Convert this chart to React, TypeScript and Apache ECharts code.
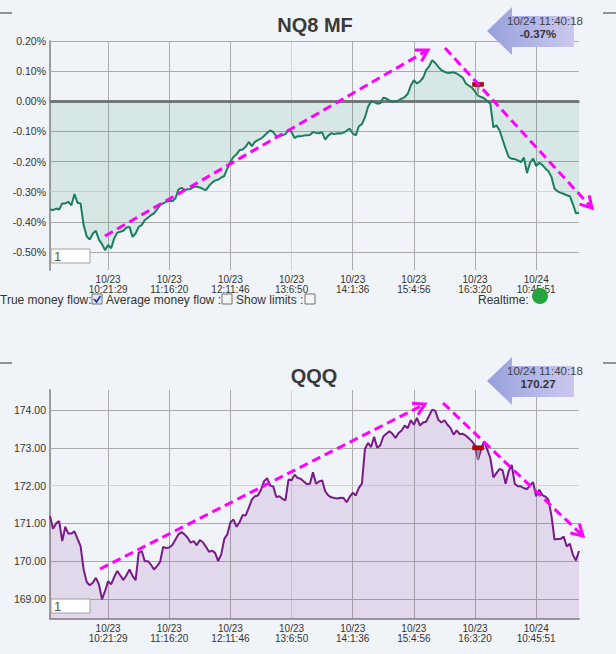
import React, { useEffect, useRef } from "react";
import * as echarts from "echarts";

// ---------- data ----------
const TICK_LABELS = [
  "10/23\n10:21:29",
  "10/23\n11:16:20",
  "10/23\n12:11:46",
  "10/23\n13:6:50",
  "10/23\n14:1:36",
  "10/23\n15:4:56",
  "10/23\n16:3:20",
  "10/24\n10:45:51",
];
const TICK_FIRST = 19;
const TICK_STEP = 20;

// NQ8 MF money flow, percent
const NQ_VALUES = [
  -0.359, -0.361, -0.356, -0.359, -0.339, -0.339, -0.334, -0.345, -0.308, -0.337,
  -0.339, -0.411, -0.448, -0.459, -0.439, -0.43, -0.459, -0.474, -0.494, -0.477,
  -0.488, -0.455, -0.436, -0.433, -0.43, -0.419, -0.417, -0.45, -0.439, -0.417,
  -0.411, -0.394, -0.387, -0.378, -0.372, -0.359, -0.345, -0.339, -0.334, -0.33,
  -0.332, -0.323, -0.293, -0.287, -0.295, -0.292, -0.291, -0.284, -0.284, -0.286,
  -0.291, -0.295, -0.281, -0.27, -0.263, -0.26, -0.253, -0.248, -0.223, -0.201,
  -0.185, -0.176, -0.162, -0.16, -0.151, -0.135, -0.149, -0.135, -0.129, -0.124,
  -0.115, -0.105, -0.097, -0.102, -0.116, -0.116, -0.113, -0.109, -0.094, -0.102,
  -0.122, -0.116, -0.116, -0.114, -0.113, -0.112, -0.102, -0.105, -0.106, -0.103,
  -0.127, -0.114, -0.106, -0.109, -0.106, -0.107, -0.104, -0.098, -0.091, -0.107,
  -0.113, -0.083, -0.076, -0.054, -0.019, 0.0, -0.003, -0.008, -0.007, 0.012,
  0.009, 0.002, -0.002, -0.001, 0.003, 0.009, 0.014, 0.025, 0.052, 0.07,
  0.059, 0.066, 0.078, 0.103, 0.116, 0.136, 0.127, 0.114, 0.103, 0.098,
  0.094, 0.095, 0.096, 0.092, 0.085, 0.078, 0.059, 0.052, 0.045, 0.032,
  0.019, 0.014, 0.01, 0.001, -0.008, -0.087, -0.08, -0.096, -0.127, -0.157,
  -0.185, -0.191, -0.192, -0.196, -0.202, -0.187, -0.238, -0.204, -0.19, -0.215,
  -0.204, -0.211, -0.223, -0.232, -0.251, -0.29, -0.299, -0.304, -0.307, -0.312,
  -0.315, -0.341, -0.372, -0.37,
];

// QQQ price
const QQQ_VALUES = [
  171.19, 170.86, 171.0, 171.06, 170.53, 170.91, 170.73, 170.73, 170.79, 170.59,
  170.4, 169.78, 169.45, 169.36, 169.43, 169.56, 169.39, 168.99, 169.21, 169.47,
  169.39, 169.58, 169.74, 169.62, 169.5, 169.63, 169.78, 169.61, 169.5, 170.22,
  170.27, 170.0, 170.0, 169.91, 169.78, 169.87, 169.98, 170.38, 170.35, 170.36,
  170.43, 170.57, 170.71, 170.77, 170.71, 170.62, 170.49, 170.53, 170.42, 170.56,
  170.5, 170.38, 170.25, 170.28, 170.22, 170.0, 170.18, 170.59, 170.71, 171.03,
  171.1, 170.91, 171.03, 171.22, 171.21, 171.41, 171.63, 171.72, 171.74, 171.89,
  172.11, 172.2, 172.0, 171.98, 171.7, 171.72, 171.65, 171.61, 172.16, 172.14,
  172.29, 172.2, 172.18, 172.11, 172.04, 172.05, 172.35, 172.05, 172.11, 172.14,
  171.85, 171.74, 171.69, 171.67, 171.66, 171.68, 171.67, 171.56, 171.7, 171.81,
  171.74, 171.94, 172.05, 172.97, 173.13, 173.02, 173.29, 173.0, 173.06, 173.3,
  173.37, 173.44, 173.37, 173.26, 173.39, 173.46, 173.59, 173.52, 173.73, 173.61,
  173.79, 173.59, 173.67, 173.69, 173.85, 174.01, 173.98, 173.74, 173.67, 173.73,
  173.61, 173.52, 173.35, 173.46, 173.36, 173.37, 173.32, 173.25, 173.17, 173.06,
  172.69, 172.97, 173.17, 172.95, 172.73, 172.22, 172.33, 172.44, 172.41, 172.05,
  172.38, 172.55, 172.05, 171.98, 171.98, 171.93, 171.91, 172.01, 172.09, 171.72,
  171.89, 171.75, 171.71, 171.63, 171.2, 170.57, 170.59, 170.59, 170.65, 170.39,
  170.46, 170.17, 170.02, 170.27,
];

const NQ_GRID_VALUES = [0.2, 0.1, -0.1, -0.2, -0.3, -0.4, -0.5];
const NQ_LIGHT_GRID = -0.3;
const QQQ_GRID_VALUES = [174, 173, 172, 171, 170, 169];
const QQQ_LIGHT_GRID = 172;

const MARKER_INDEX = 140;
const NQ_MARKER_VALUE = 0.056;
const QQQ_MARKER_VALUE = 173.0;

const NQ_LAST_TIME = "10/24 11:40:18";
const NQ_LAST_VALUE = "-0.37%";
const QQQ_LAST_TIME = "10/24 11:40:18";
const QQQ_LAST_VALUE = "170.27";

// ---------- style ----------
const FONT = '"Liberation Sans Narrow", "Liberation Sans", Arial, sans-serif';
const BG = "#f0f4f8";
const GRID_GREY = "#ababab";
const GRID_TEAL = "#c6dcda";
const AXIS_GREY = "#9c9c9c";
const MAGENTA = "#ff00ff";

const categories = NQ_VALUES.map((_, i) => String(i));
const isTick = (i: number) => i >= TICK_FIRST && (i - TICK_FIRST) % TICK_STEP === 0;
const tickLabel = (i: number) => TICK_LABELS[(i - TICK_FIRST) / TICK_STEP] ?? "";

function xAxisFor(gridIndex: number) {
  return {
    type: "category",
    gridIndex,
    data: categories,
    boundaryGap: false,
    axisLine: { show: true, lineStyle: { color: AXIS_GREY, width: 2 } },
    axisTick: { show: false },
    axisLabel: {
      interval: (i: number) => isTick(i),
      formatter: (v: string) => tickLabel(Number(v)),
      fontSize: 10,
      lineHeight: 10,
      color: "#333",
      fontFamily: FONT,
      margin: 4,
    },
    splitLine: {
      show: true,
      interval: (i: number) => isTick(i),
      lineStyle: {
        color: [GRID_GREY, GRID_GREY, GRID_GREY, GRID_TEAL, GRID_GREY, GRID_GREY, GRID_GREY, GRID_GREY],
        width: 1,
      },
    },
  };
}

function yAxisFor(gridIndex: number, min: number, max: number, splitNumber: number, fmt: (v: number) => string, showMax: boolean) {
  return {
    type: "value",
    gridIndex,
    min,
    max,
    splitNumber,
    axisLine: { show: true, lineStyle: { color: AXIS_GREY, width: 2 } },
    axisTick: { show: false },
    splitLine: { show: false },
    axisLabel: {
      showMinLabel: false,
      showMaxLabel: showMax,
      formatter: fmt,
      fontSize: 10.5,
      color: "#333",
      fontFamily: FONT,
      margin: 4,
    },
  };
}

function magentaArrow(x1: number, y1: number, x2: number, y2: number) {
  const dx = x2 - x1;
  const dy = y2 - y1;
  const L = Math.hypot(dx, dy);
  const ux = dx / L;
  const uy = dy / L;
  const hl = 13;
  const a = Math.PI / 6;
  const w = (s: number) => {
    const c = Math.cos(s * a);
    const sn = Math.sin(s * a);
    const rx = ux * c - uy * sn;
    const ry = ux * sn + uy * c;
    return [x2 - rx * hl, y2 - ry * hl];
  };
  return [
    {
      type: "line",
      z: 100,
      shape: { x1, y1, x2: x2 - ux * 2, y2: y2 - uy * 2 },
      style: { stroke: MAGENTA, lineWidth: 3, lineDash: [9, 5] },
    },
    {
      type: "polyline",
      z: 100,
      shape: { points: [w(1), [x2, y2], w(-1)] },
      style: { stroke: MAGENTA, lineWidth: 3, fill: null },
    },
  ];
}

function priceArrowBox(top: number, time: string, value: string) {
  return [
    {
      type: "polygon",
      z: 90,
      shape: {
        points: [
          [487, top + 24],
          [512, top],
          [512, top + 9],
          [574, top + 9],
          [574, top + 40],
          [512, top + 40],
          [512, top + 48],
        ],
      },
      style: {
        fill: new echarts.graphic.LinearGradient(0, 0, 1, 0, [
          { offset: 0, color: "#97a0dc" },
          { offset: 0.6, color: "#b6b9e8" },
          { offset: 1, color: "#ccc8ee" },
        ]),
      },
    },
    {
      type: "text",
      z: 95,
      x: 545,
      y: top + 14,
      style: { text: time, fill: "#444", fontSize: 11.5, fontFamily: FONT, align: "center", verticalAlign: "middle" },
    },
    {
      type: "text",
      z: 95,
      x: 538,
      y: top + 27,
      style: { text: value, fill: "#333", fontSize: 11.5, fontWeight: "bold", fontFamily: FONT, align: "center", verticalAlign: "middle" },
    },
  ];
}

function inputBox(y: number) {
  return [
    { type: "rect", z: 80, shape: { x: 51, y, width: 39, height: 14 }, style: { fill: "#fff", stroke: "#a0a0a0", lineWidth: 1 } },
    { type: "text", z: 81, x: 54, y: y + 7.5, style: { text: "1", fill: "#555", fontSize: 13, fontFamily: FONT, verticalAlign: "middle" } },
  ];
}

function checkbox(x: number, y: number, checked: boolean) {
  const els: any[] = [
    { type: "rect", z: 80, shape: { x, y, width: 10, height: 10 }, style: { fill: checked ? "#e4e8f4" : "#f4f4f4", stroke: "#707070", lineWidth: 1 } },
  ];
  if (checked) {
    els.push({
      type: "polyline",
      z: 81,
      shape: { points: [[x + 2, y + 5], [x + 4.5, y + 8], [x + 8.5, y + 2]] },
      style: { stroke: "#2c3c90", lineWidth: 1.8, fill: null },
    });
  }
  return els;
}

function label(text: string, x: number, y: number, size = 12) {
  return { type: "text", z: 80, x, y, style: { text, fill: "#333", fontSize: size, fontFamily: FONT, verticalAlign: "middle" } };
}

function gridMarkLines(values: number[], light: number, extra: any[] = []) {
  return {
    silent: true,
    symbol: "none",
    z: 1,
    label: { show: false },
    data: [
      ...values.map((v) => ({ yAxis: v, lineStyle: { color: v === light ? GRID_TEAL : GRID_GREY, width: 1, type: "solid" } })),
      ...extra,
    ],
  };
}

function marker(value: number, triH: number) {
  return {
    silent: true,
    label: { show: false },
    data: [
      {
        coord: [MARKER_INDEX, value],
        symbol: "triangle",
        symbolRotate: 180,
        symbolSize: [4, triH],
        symbolOffset: [0, triH / 2 + 1],
        itemStyle: { color: "#9a9a9a" },
      },
      {
        coord: [MARKER_INDEX, value],
        symbol: "rect",
        symbolSize: [11, 4],
        itemStyle: { color: "#c00000", borderColor: "#700000", borderWidth: 0.5 },
      },
    ],
  };
}

export default function App() {
  const ref = useRef<HTMLDivElement>(null);

  useEffect(() => {
    if (!ref.current) return;
    const chart = echarts.init(ref.current, undefined, { renderer: "svg" });

    const graphic: any[] = [
      // corner dashes
      { type: "line", shape: { x1: 0, y1: 13, x2: 12, y2: 13 }, style: { stroke: "#333", lineWidth: 1 } },
      { type: "line", shape: { x1: 603, y1: 13, x2: 616, y2: 13 }, style: { stroke: "#333", lineWidth: 1 } },
      { type: "line", shape: { x1: 0, y1: 363, x2: 12, y2: 363 }, style: { stroke: "#333", lineWidth: 1 } },
      { type: "line", shape: { x1: 603, y1: 363, x2: 616, y2: 363 }, style: { stroke: "#333", lineWidth: 1 } },
      // titles
      {
        type: "text", x: 315, y: 25,
        style: { text: "NQ8 MF", fill: "#3a3a3a", fontSize: 20, fontWeight: "bold", fontFamily: FONT, align: "center", verticalAlign: "middle" },
      },
      {
        type: "text", x: 314, y: 376,
        style: { text: "QQQ", fill: "#3a3a3a", fontSize: 20, fontWeight: "bold", fontFamily: FONT, align: "center", verticalAlign: "middle" },
      },
      ...priceArrowBox(7, NQ_LAST_TIME, NQ_LAST_VALUE),
      ...priceArrowBox(357, QQQ_LAST_TIME, QQQ_LAST_VALUE),
      ...inputBox(249),
      ...inputBox(599),
      // controls row
      label("True money flow:", 0, 300),
      ...checkbox(92, 294, true),
      label("Average money flow :", 106, 300),
      ...checkbox(222, 294, false),
      label("Show limits :", 236, 300),
      ...checkbox(305, 294, false),
      label("Realtime:", 478, 300),
      { type: "circle", z: 80, shape: { cx: 540, cy: 296, r: 8 }, style: { fill: "#27a43e" } },
      // hand-drawn trend arrows
      ...magentaArrow(105, 236, 428, 50),
      ...magentaArrow(445, 48, 592, 208),
      ...magentaArrow(100, 569, 425, 404),
      ...magentaArrow(443, 403, 583, 536),
    ];

    chart.setOption({
      animation: false,
      backgroundColor: BG,
      textStyle: { fontFamily: FONT },
      grid: [
        { left: 50, top: 41, width: 529, height: 229, containLabel: false },
        { left: 50, top: 390, width: 529, height: 229, containLabel: false },
      ],
      xAxis: [xAxisFor(0), xAxisFor(1)],
      yAxis: [
        yAxisFor(0, -0.56, 0.2, 8, (v: number) => v.toFixed(2) + "%", true),
        yAxisFor(1, 168.47, 174.53, 6, (v: number) => v.toFixed(2), false),
      ],
      series: [
        {
          type: "line",
          xAxisIndex: 0,
          yAxisIndex: 0,
          data: NQ_VALUES,
          symbol: "none",
          lineStyle: { color: "#1b7e5f", width: 2 },
          areaStyle: { origin: 0, color: "rgba(30,130,100,0.16)" },
          markLine: gridMarkLines(NQ_GRID_VALUES, NQ_LIGHT_GRID, [
            { yAxis: 0, lineStyle: { color: "#787878", width: 3, type: "solid" } },
          ]),
          markPoint: marker(NQ_MARKER_VALUE, 11),
        },
        {
          type: "line",
          xAxisIndex: 1,
          yAxisIndex: 1,
          data: QQQ_VALUES,
          symbol: "none",
          lineStyle: { color: "#781b88", width: 2 },
          areaStyle: { origin: "start", color: "rgba(120,30,140,0.18)" },
          markLine: gridMarkLines(QQQ_GRID_VALUES, QQQ_LIGHT_GRID),
          markPoint: marker(QQQ_MARKER_VALUE, 13),
        },
      ],
      graphic,
    });

    return () => chart.dispose();
  }, []);

  return (
    <div
      ref={ref}
      style={{ position: "absolute", left: 0, top: 0, width: 616, height: 654, background: BG }}
    />
  );
}
